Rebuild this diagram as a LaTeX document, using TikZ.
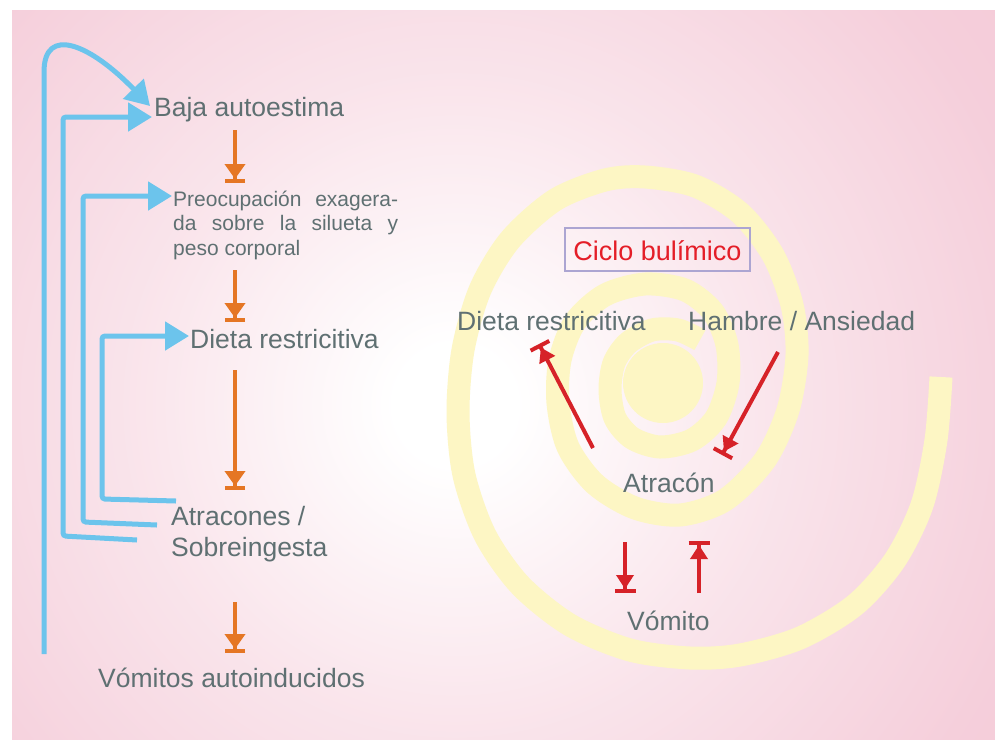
\documentclass[tikz,border=0pt]{standalone}
\usepackage{fontspec}
\setmainfont{Liberation Sans}
\usetikzlibrary{arrows.meta,calc}
\definecolor{pinkbg}{RGB}{243,196,211}
\definecolor{txtgray}{RGB}{95,112,114}
\definecolor{oarrow}{RGB}{229,118,36}
\definecolor{barrow}{RGB}{108,196,236}
\definecolor{rarrow}{RGB}{214,34,40}
\definecolor{spiralc}{RGB}{253,246,196}
\definecolor{boxc}{RGB}{172,165,210}
\definecolor{titlered}{RGB}{228,30,40}
\colorlet{pinkA}{pinkbg!45!white}
\colorlet{pinkB}{pinkbg!82!white}
\pgfdeclareradialshading{bgshade}{\pgfpoint{0bp}{0bp}}{color(0bp)=(white); color(1.5bp)=(white); color(8bp)=(pinkA); color(15bp)=(pinkB); color(23bp)=(pinkbg); color(50bp)=(pinkbg)}
\begin{document}
\begin{tikzpicture}[x=1pt,y=-1pt,
  lbl/.style={text=txtgray, inner sep=0pt, font=\fontsize{26.5}{31}\selectfont, text height=20pt, text depth=6pt},
  oarr/.style={draw=oarrow, line width=4pt, -{Triangle[length=15pt,width=20pt] Bar[width=20pt]}},
  rarr/.style={draw=rarrow, line width=4pt, -{Triangle[length=14pt,width=17pt] Bar[width=21pt]}},
  barr/.style={draw=barrow, line width=5pt, rounded corners=3pt, -{Triangle[length=24pt,width=28pt]}},
  spiralband/.style={draw=spiralc, line width=23pt, line cap=butt}
]
\useasboundingbox (0,0) rectangle (995,739);
% background
\fill[white] (0,0) rectangle (995,739);
\fill[pinkbg] (12,10) rectangle (995,739);
\begin{scope}
  \clip (12,10) rectangle (995,739);
  \shade[shading=bgshade] (455,405) circle (1000pt);
\end{scope}

% spiral
\draw[spiralband] plot[smooth, tension=0.5] coordinates {
 (941,377) (936,440) (922,505) (895,560) (855,605) (800,638) (740,655) (690,658)
 (630,650) (570,625) (520,585) (485,535) (464,475) (458,413) (463,350) (480,290)
 (510,240) (555,200) (605,180) (645,177) (695,186) (740,213) (773,255) (792,305)
 (797,355) (788,410) (765,460) (725,500) (680,515) (635,508) (595,484) (568,447)
 (558,403) (560,360) (575,322) (605,295) (645,284) (685,290) (713,312) (727,345)
 (728,383) (716,418) (692,440) (660,447) (632,438) (615,418) (610,390) (614,363)
 (628,343) (652,330) (678,330) (700,340)};
\fill[spiralc] (663,383) circle (40pt);

% left column labels
\node[lbl, anchor=base west] (baja) at (154,116) {Baja autoestima};
\node[text=txtgray, inner sep=0pt, anchor=base west] (preoc) at (173,206)
  {\parbox[t]{225pt}{\fontsize{21}{24.5}\selectfont\tolerance=10000\hyphenpenalty=10000
   Preocupación exagera-\linebreak da sobre la silueta y\linebreak peso corporal}};
\node[lbl, anchor=base west] (dietaL) at (190,348) {Dieta restricitiva};
\node[text=txtgray, inner sep=0pt, anchor=base west] (atrac) at (171,525)
  {\parbox[t]{220pt}{\raggedright\fontsize{26.5}{31}\selectfont Atracones /\\Sobreingesta}};
\node[lbl, anchor=base west] (vomL) at (98,687) {Vómitos autoinducidos};

% orange arrows
\coordinate (o1a) at (235,130); \coordinate (o1b) at (235,183);
\coordinate (o2a) at (235,270); \coordinate (o2b) at (235,322);
\coordinate (o3a) at (235,370); \coordinate (o3b) at (235,490);
\coordinate (o4a) at (235,602); \coordinate (o4b) at (235,653);
\draw[oarr] (o1a) -- (o1b);
\draw[oarr] (o2a) -- (o2b);
\draw[oarr] (o3a) -- (o3b);
\draw[oarr] (o4a) -- (o4b);

% blue feedback arrows
\coordinate (b1t) at (44,654);
\coordinate (b2t) at (137,540);
\coordinate (b3t) at (157,525);
\coordinate (b4t) at (176,501);
\draw[barr] (b1t) -- (44,75) .. controls (44,25) and (90,44) .. ([xshift=-4pt,yshift=3pt]baja.west);
\draw[barr] (b2t) -- (63,536) |- ([xshift=-2pt,yshift=-8pt]baja.west);
\draw[barr] (b3t) -- (83,522) |- ([xshift=-1pt,yshift=10pt]preoc.base west);
\draw[barr] (b4t) -- (102,499) |- ([xshift=-1pt,yshift=12pt]dietaL.base west);

% right: bulimic cycle
\node[draw=boxc, line width=2pt, text=titlered, font=\fontsize{27}{32}\selectfont,
  minimum width=185pt, minimum height=43pt, inner sep=0pt, text height=22pt, text depth=0pt]
  (title) at (657.5,249) {Ciclo bulímico};
\node[lbl, anchor=base west] (dietaR) at (457,330) {Dieta restricitiva};
\node[lbl, anchor=base west] (hambre) at (688,330) {Hambre / Ansiedad};
\node[lbl, anchor=base west] (atracon) at (623,492) {Atracón};
\node[lbl, anchor=base west] (vomito) at (627,630) {Vómito};

\coordinate (r1a) at (593,448); \coordinate (r1b) at (539,344);
\coordinate (r2a) at (778,352); \coordinate (r2b) at (722,455);
\coordinate (r3a) at (625,542); \coordinate (r3b) at (625,593);
\coordinate (r4a) at (699,593); \coordinate (r4b) at (699,541);
\draw[rarr] (r1a) -- (r1b);
\draw[rarr] (r2a) -- (r2b);
\draw[rarr] (r3a) -- (r3b);
\draw[rarr] (r4a) -- (r4b);
\end{tikzpicture}
\end{document}
